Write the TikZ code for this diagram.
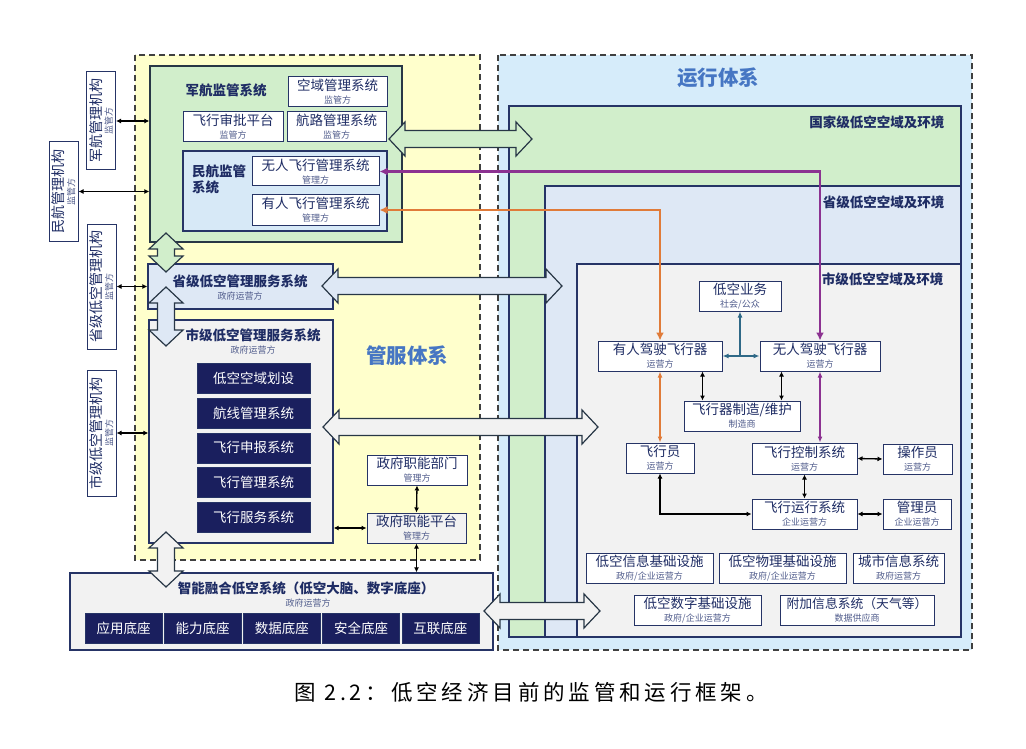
\documentclass[tikz,border=0pt]{standalone}
\usepackage{fontspec}
\setmainfont{Noto Sans CJK SC}
\newfontfamily\capfont[LetterSpace=18]{Noto Sans CJK SC}
\usetikzlibrary{arrows.meta}

\definecolor{yellowbg}{RGB}{255,255,204}
\definecolor{bluebg}{RGB}{214,236,250}
\definecolor{greenbg}{RGB}{209,238,203}
\definecolor{civilbg}{RGB}{215,233,247}
\definecolor{provbg}{RGB}{222,232,245}
\definecolor{graybg}{RGB}{242,242,242}
\definecolor{navy}{RGB}{26,31,94}
\definecolor{linecol}{RGB}{38,52,102}
\definecolor{txtcol}{RGB}{30,44,100}
\definecolor{subcol}{RGB}{80,92,140}
\definecolor{titlecol}{RGB}{70,118,195}
\definecolor{purp}{RGB}{140,50,145}
\definecolor{orng}{RGB}{224,123,57}
\definecolor{tealc}{RGB}{47,105,135}
\definecolor{arrline}{RGB}{40,55,70}

\tikzset{
  sysbox/.style={draw=linecol, line width=1pt, fill=white, align=center, inner sep=0pt, text=txtcol, font=\fontsize{13.5}{13}\selectfont},
  darkbox/.style={draw=linecol, fill=navy, text=white, minimum height=30, inner sep=0pt, font=\fontsize{13.5}{14}\selectfont},
  vbox/.style={sysbox, rotate=90, minimum height=29, font=\fontsize{14}{11}\selectfont},
  panel/.style={draw=linecol, line width=1.3pt, inner sep=0pt},
  head/.style={text=txtcol, font=\bfseries\fontsize{13.5}{16}\selectfont},
  sub/.style={text=subcol, font=\fontsize{9}{10}\selectfont},
  bigtitle/.style={text=titlecol, font=\bfseries\fontsize{20.5}{22}\selectfont},
  blk/.style={line width=1.3pt, {Latex[length=5pt,width=5pt]}-{Latex[length=5pt,width=5pt]}},
  thick2/.style={line width=2.5pt, {Latex[length=8pt,width=8pt]}-{Latex[length=8pt,width=8pt]}},
  thin2/.style={line width=1.3pt, {Latex[length=6pt,width=5pt]}-{Latex[length=6pt,width=5pt]}},
  blockarr/.style={draw=arrline, line width=1.2pt, line join=miter},
  frame/.style={draw=linecol, line width=1.3pt},
  region/.style={draw=black!75, line width=1.2pt, dash pattern=on 6pt off 4pt},
}

\newcommand{\twol}[2]{#1\\{\fontsize{9}{9}\selectfont\color{subcol}#2}}
% hollow double arrows: left tip, right tip, y, fill
\newcommand{\blockh}[4]{\draw[blockarr, fill=#4] (#1,#3) -- (#1+16,#3-17) -- (#1+16,#3-8.5) -- (#2-16,#3-8.5) -- (#2-16,#3-17) -- (#2,#3) -- (#2-16,#3+17) -- (#2-16,#3+8.5) -- (#1+16,#3+8.5) -- (#1+16,#3+17) -- cycle;}
% x, top tip, bottom tip, fill
\newcommand{\blockv}[4]{\draw[blockarr, fill=#4] (#1,#2) -- (#1+17,#2+16) -- (#1+8.5,#2+16) -- (#1+8.5,#3-16) -- (#1+17,#3-16) -- (#1,#3) -- (#1-17,#3-16) -- (#1-8.5,#3-16) -- (#1-8.5,#2+16) -- (#1-17,#2+16) -- cycle;}

\begin{document}
\begin{tikzpicture}[x=1pt,y=-1pt]
\useasboundingbox (0,0) rectangle (1026,749);
\fill[white] (0,0) rectangle (1026,749);

% two areas
\fill[yellowbg] (135,55) rectangle (480,560);
\draw[region] (135,55) rectangle (480,560);
\fill[bluebg] (498,55) rectangle (972,650);
\draw[region] (498,55) rectangle (972,650);

% airspace layers
\draw[frame, fill=greenbg] (509,106) rectangle (961,637);
\draw[frame, fill=provbg] (545,186) rectangle (961,637);
\draw[frame, fill=graybg] (577,264) rectangle (961,637);

% left panels
\node[panel, draw=arrline, fill=greenbg, minimum width=252, minimum height=176] (junsys) at (276,154) {};
\node[panel, fill=civilbg, minimum width=204, minimum height=80] (civil) at (285,191) {};
\node[panel, fill=provbg, minimum width=185, minimum height=45] (provsys) at (240.5,286.5) {};
\node[panel, fill=graybg, minimum width=184, minimum height=223] (citysys) at (241,431.5) {};
\node[panel, fill=graybg, minimum width=423, minimum height=77] (brain) at (281.5,611.5) {};

% big arrows
\blockh{389}{532}{139}{greenbg}
\blockh{322}{562}{286}{provbg}
\blockh{323}{598}{427}{graybg}
\blockh{484}{600}{611}{graybg}
\blockv{166}{233}{272}{greenbg}
\blockv{166}{287}{346}{provbg}
\blockv{166}{532}{587}{graybg}

\node[bigtitle] (opttl) at (718,78) {运行体系};
\node[bigtitle] (mgttl) at (407,356) {管服体系};
\node[head, anchor=east] (natl) at (948,122) {国家级低空空域及环境};
\node[head, anchor=east] (prov) at (948,202) {省级低空空域及环境};
\node[head, anchor=east] (city) at (947,279) {市级低空空域及环境};

% authorities
\node[vbox, minimum width=98] (junorg) at (101,121) {\twol{军航管理机构}{监管方}};
\node[vbox, minimum width=99] (minorg) at (63.5,191.5) {\twol{民航管理机构}{监管方}};
\node[vbox, minimum width=125] (provorg) at (101.5,286.5) {\twol{省级低空管理机构}{监管方}};
\node[vbox, minimum width=126] (cityorg) at (101.5,433) {\twol{市级低空管理机构}{监管方}};

% military / civil
\node[head] (juntitle) at (226,90) {军航监管系统};
\node[sysbox, minimum width=99, minimum height=30] (airsp) at (337.5,92) {\twol{空域管理系统}{监管方}};
\node[sysbox, minimum width=100, minimum height=30] (approve) at (233,127) {\twol{飞行审批平台}{监管方}};
\node[sysbox, minimum width=99, minimum height=30] (route) at (336.5,127) {\twol{航路管理系统}{监管方}};
\node[head, align=left] (civtitle) at (219,179) {民航监管\\系统};
\node[sysbox, minimum width=127, minimum height=29] (wrsys) at (315.5,171.5) {\twol{无人飞行管理系统}{管理方}};
\node[sysbox, minimum width=127, minimum height=30] (yrsys) at (315.5,210) {\twol{有人飞行管理系统}{管理方}};

% province / city
\node[head] (provtitle) at (240,281) {省级低空管理服务系统};
\node[sub] (provsub) at (240,296) {政府运营方};
\node[head] (citytitle) at (253,335) {市级低空管理服务系统};
\node[sub] (citysub) at (253,350) {政府运营方};
\foreach \t [count=\i] in {低空空域划设,航线管理系统,飞行申报系统,飞行管理系统,飞行服务系统}
  \node[darkbox, minimum width=113] (citym\i) at (253.5,{378.5+34.6*(\i-1)}) {\t};
\node[sysbox, minimum width=100, minimum height=30] (dept) at (417,470) {\twol{政府职能部门}{管理方}};
\node[sysbox, fill=graybg, minimum width=99, minimum height=30] (platf) at (416.5,528) {\twol{政府职能平台}{管理方}};

% brain
\node[head] (braintitle) at (306,588) {智能融合低空系统（低空大脑、数字底座）};
\node[sub] (brainsub) at (308,603) {政府运营方};
\foreach \t [count=\i] in {应用底座,能力底座,数据底座,安全底座,互联底座}
  \node[darkbox, minimum width=77] (base\i) at ({123.5+79.2*(\i-1)},628) {\t};

% city airspace
\node[sysbox, minimum width=82, minimum height=30] (biz) at (740,296) {\twol{低空业务}{社会/公众}};
\node[sysbox, minimum width=124, minimum height=30] (yrcraft) at (660,356) {\twol{有人驾驶飞行器}{运营方}};
\node[sysbox, minimum width=120, minimum height=30] (wrcraft) at (820,356) {\twol{无人驾驶飞行器}{运营方}};
\node[sysbox, minimum width=116, minimum height=30] (mfg) at (742,416) {\twol{飞行器制造/维护}{制造商}};
\node[sysbox, minimum width=68, minimum height=30] (pilot) at (660,458) {\twol{飞行员}{运营方}};
\node[sysbox, minimum width=105, minimum height=31] (fctrl) at (804.5,458.5) {\twol{飞行控制系统}{运营方}};
\node[sysbox, minimum width=69, minimum height=30] (operator) at (917.5,459) {\twol{操作员}{运营方}};
\node[sysbox, minimum width=105, minimum height=30] (fops) at (804.5,514) {\twol{飞行运行系统}{企业运营方}};
\node[sysbox, minimum width=68, minimum height=30] (admin) at (917,514) {\twol{管理员}{企业运营方}};
\node[sysbox, minimum width=127, minimum height=30] (infoinf) at (649.5,568) {\twol{低空信息基础设施}{政府/企业运营方}};
\node[sysbox, minimum width=127, minimum height=30] (physinf) at (782.5,568) {\twol{低空物理基础设施}{政府/企业运营方}};
\node[sysbox, minimum width=91, minimum height=30] (cityinfo) at (898.5,568) {\twol{城市信息系统}{政府运营方}};
\node[sysbox, minimum width=127, minimum height=30] (diginf) at (697.5,610) {\twol{低空数字基础设施}{政府/企业运营方}};
\node[sysbox, minimum width=154, minimum height=30, font=\fontsize{12.8}{13}\selectfont] (weather) at (857,610) {\twol{附加信息系统（天气等）}{数据供应商}};

% connectors
\draw[blk] (junorg.south) -- (junorg.south -| junsys.west);
\draw[blk] (minorg.south) -- (minorg.south -| junsys.west);
\draw[blk] (provorg.south) -- (provorg.south -| provsys.west);
\draw[blk] (cityorg.south) -- (cityorg.south -| citysys.west);
\draw[blk] (dept.south) -- (platf.north);
\draw[blk] (citysys.east |- platf.west) -- (platf.west);
\draw[blk] (platf.south) -- (platf.south |- brain.north);

\coordinate (m1) at ([xshift=19pt]mfg.north west);
\coordinate (m2) at ([xshift=-19pt]mfg.north east);
\draw[blk] (m1 |- yrcraft.south) -- (m1);
\draw[blk] (m2 |- wrcraft.south) -- (m2);
\draw[blk] (fctrl.east) -- (operator.west);
\draw[blk] (fctrl.south) -- (fops.north);
\draw[blk] (fops.east) -- (admin.west);
\draw[blk] (pilot.south) |- (fops.west);

\draw[thin2, tealc, {Latex[length=6pt,width=5pt]}-] (biz.south) -- (biz.south |- yrcraft.east);
\draw[thin2, tealc] (yrcraft.east) -- (wrcraft.west);
\draw[thin2, orng] (yrcraft.south) -- (pilot.north);
\draw[thin2, purp] (wrcraft.south) -- (wrcraft.south |- fctrl.north);
\draw[thick2, purp] (wrsys.east) -| (wrcraft.north);
\draw[thick2, orng] (yrsys.east) -| (yrcraft.north);

\node[font=\capfont\fontsize{21.5}{22}\selectfont] (cap) at (531,692) {图 2.2：低空经济目前的监管和运行框架。};
\end{tikzpicture}
\end{document}
